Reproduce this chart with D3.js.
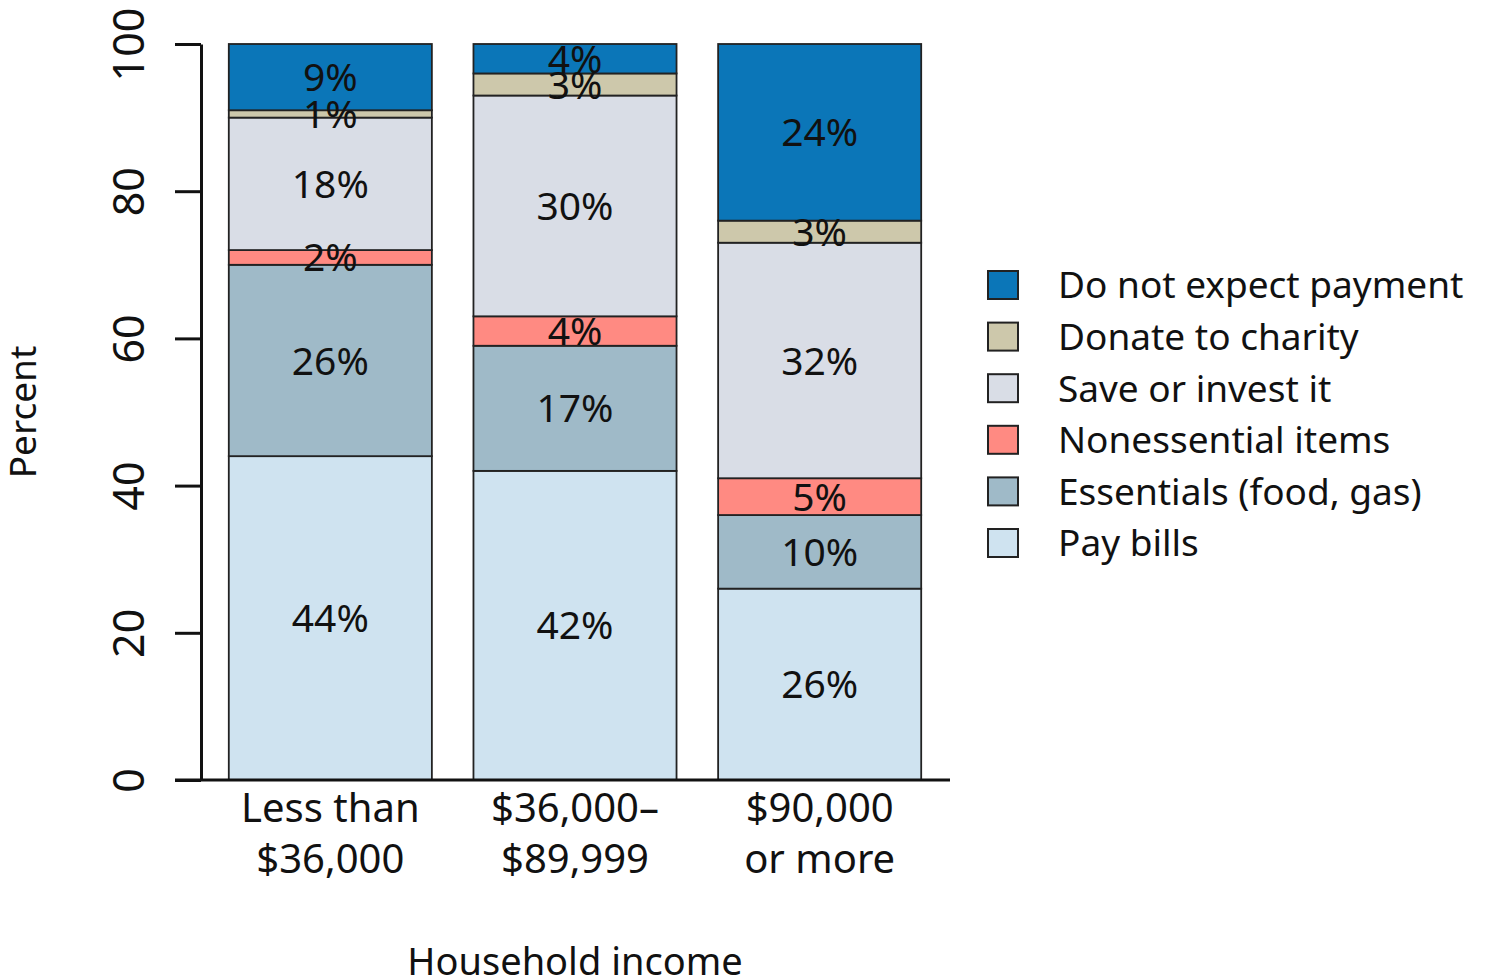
<!DOCTYPE html>
<html lang="en">
<head>
<meta charset="UTF-8">
<title>Household income</title>
<script src="https://cdn.jsdelivr.net/npm/d3@7"></script>
<style>
  body { margin: 0; background: #fff; }
  svg text { font-family: "Noto Sans", sans-serif; fill: #111; }
</style>
</head>
<body>
<svg id="chart" width="1489" height="980"></svg>
<script>
// categories on x axis (two lines each)
const incomes = ["Less than\n$36,000", "$36,000–\n$89,999", "$90,000\nor more"]
// stacked series, bottom to top
const seriesNames = ["Pay bills", "Essentials (food, gas)", "Nonessential items", "Save or invest it", "Donate to charity", "Do not expect payment"]
const payBills     = [44, 42, 26]
const essentials   = [26, 17, 10]
const nonessential = [2, 4, 5]
const saveInvest   = [18, 30, 32]
const donate       = [1, 3, 3]
const noPayment    = [9, 4, 24]
const yTicks = [0, 20, 40, 60, 80, 100]

const colors = ["#cfe3f0", "#9fbac8", "#ff8a82", "#d9dde6", "#cdc8ab", "#0b76b8"]

let values = [payBills, essentials, nonessential, saveInvest, donate, noPayment]
let table = incomes.map((c, i) => {
    let row = { cat: c }
    seriesNames.forEach((s, j) => row[s] = values[j][i])
    return row
})

let svg = d3.select("#chart")

let x = d3.scaleBand()
    .domain(incomes)
    .range([208, 942])
    .paddingInner(0.17)
    .paddingOuter(0.085)

let y = d3.scaleLinear()
    .domain([0, 100])
    .range([780, 44])

let stack = d3.stack().keys(seriesNames)
let layers = stack(table)
let segs = layers.flatMap(l => l.map(p => ({ key: l.key, p: p })))

let color = d3.scaleOrdinal().domain(seriesNames).range(colors)

// rects first, labels on top
svg.append("g").selectAll("rect")
    .data(segs)
    .enter()
    .append("rect")
    .attr("x", d => x(d.p.data.cat))
    .attr("y", d => y(d.p[1]))
    .attr("width", x.bandwidth())
    .attr("height", d => y(d.p[0]) - y(d.p[1]))
    .attr("fill", d => color(d.key))
    .attr("stroke", "#222")
    .attr("stroke-width", 1.8)

svg.append("g").selectAll("text")
    .data(segs)
    .enter()
    .append("text")
    .attr("x", d => x(d.p.data.cat) + x.bandwidth() / 2)
    .attr("y", d => y((d.p[0] + d.p[1]) / 2))
    .attr("dy", "0.36em")
    .attr("text-anchor", "middle")
    .attr("font-size", 39)
    .text(d => (d.p[1] - d.p[0]) + "%")

// y axis
let yaxis = d3.axisLeft(y).tickValues(yTicks).tickSize(26).tickPadding(0).tickSizeOuter(0)
let ya = svg.append("g")
    .attr("transform", "translate(201,0)")
    .call(yaxis)
ya.select(".domain").attr("stroke", "#111").attr("stroke-width", 3)
ya.selectAll(".tick line").attr("stroke", "#111").attr("stroke-width", 3)
ya.selectAll(".tick text")
    .attr("x", 0).attr("y", 0).attr("dy", 0)
    .attr("text-anchor", "middle")
    .attr("font-size", 43)
    .style("font-family", '"Noto Sans", sans-serif')
    .attr("fill", "#111")
    .attr("transform", "translate(-74,0) rotate(-90)")
    .attr("dominant-baseline", "central")

// x axis baseline
svg.append("line")
    .attr("x1", 175).attr("x2", 950)
    .attr("y1", y(0)).attr("y2", y(0))
    .attr("stroke", "#111").attr("stroke-width", 3)

// x labels
let xl = svg.selectAll("text.xlab")
    .data(incomes)
    .enter()
    .append("text")
    .attr("class", "xlab")
    .attr("text-anchor", "middle")
    .attr("font-size", 40)
    .attr("x", d => x(d) + x.bandwidth() / 2)
xl.each(function(d) {
    let lines = d.split("\n")
    d3.select(this).selectAll("tspan")
        .data(lines)
        .enter()
        .append("tspan")
        .attr("x", x(d) + x.bandwidth() / 2)
        .attr("y", (l, i) => 822 + i * 51)
        .text(l => l)
})

svg.append("text")
    .attr("x", 575).attr("y", 975)
    .attr("text-anchor", "middle")
    .attr("font-size", 38)
    .text("Household income")

svg.append("text")
    .attr("transform", "translate(36,412) rotate(-90)")
    .attr("text-anchor", "middle")
    .attr("font-size", 37)
    .text("Percent")

// legend, top to bottom
let legendItems = seriesNames.slice().reverse()
let leg = svg.selectAll("g.legend")
    .data(legendItems)
    .enter()
    .append("g")
    .attr("class", "legend")
    .attr("transform", (d, i) => "translate(988," + (285 + i * 51.6) + ")")
leg.append("rect")
    .attr("x", 0).attr("y", -14)
    .attr("width", 30).attr("height", 28)
    .attr("fill", d => color(d))
    .attr("stroke", "#222")
    .attr("stroke-width", 2)
leg.append("text")
    .attr("x", 70)
    .attr("y", 0)
    .attr("dy", "0.36em")
    .attr("font-size", 37)
    .text(d => d)
</script>
</body>
</html>
